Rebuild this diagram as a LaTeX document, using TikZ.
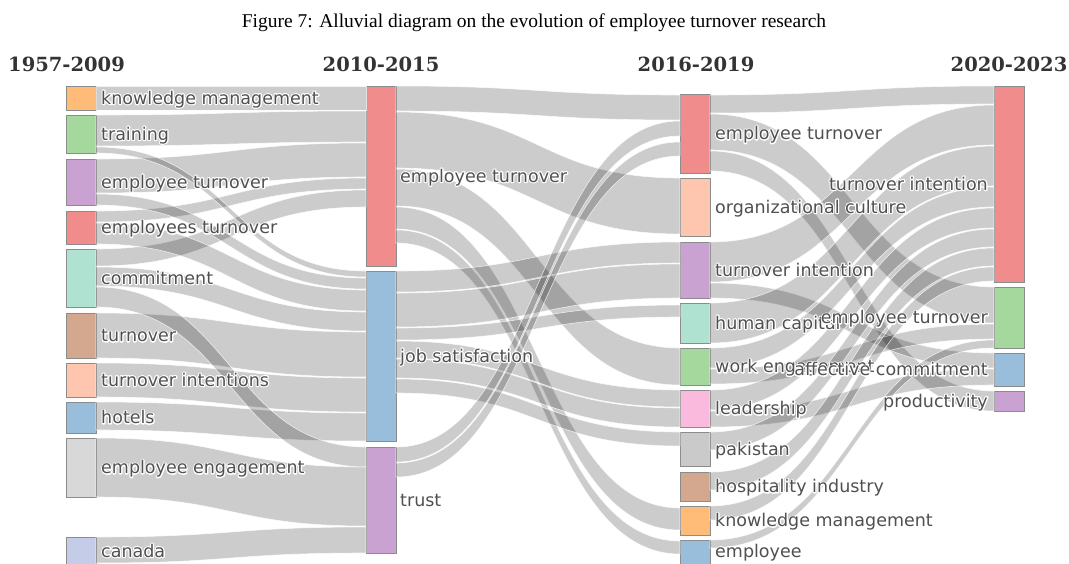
\documentclass[tikz,border=0pt]{standalone}
\usepackage{fontspec}
\setmainfont{Liberation Serif}
\newfontfamily\labfont{DejaVu Sans}
\newfontfamily\headfont{DejaVu Serif}
\usetikzlibrary{calc}
\definecolor{labc}{RGB}{80,80,80}
\definecolor{headc}{RGB}{51,51,51}
\definecolor{cOrange}{HTML}{FFBB78}
\definecolor{cGreen}{HTML}{A4D89C}
\definecolor{cPurple}{HTML}{C9A2D2}
\definecolor{cRed}{HTML}{F08C8C}
\definecolor{cMint}{HTML}{B0E2D2}
\definecolor{cBrown}{HTML}{D4A88E}
\definecolor{cPeach}{HTML}{FEC6AE}
\definecolor{cBlue}{HTML}{99BEDC}
\definecolor{cGray}{HTML}{D8D8D8}
\definecolor{cGrayB}{HTML}{CACACA}
\definecolor{cLav}{HTML}{C4CCE8}
\definecolor{cPink}{HTML}{F9BADD}
\newcommand\hl[1]{\rlap{\color{white}\special{pdf:literal direct 1 Tr 2.4 w 1 j}#1\special{pdf:literal direct 0 Tr}}#1}
\newcommand\bx[5]{%
  \pgfmathsetmacro\bxc{(#3+#4)/2}\pgfmathsetmacro\bxh{#4-#3}%
  \node[boxst, fill=#5, minimum height=\bxh pt] (#1) at (#2+15,\bxc) {};}
\newcommand\flowband[6]{%
  \coordinate (fA) at ([yshift=-#2pt]#1.north east);
  \coordinate (fB) at ([yshift=-#3pt]#1.north east);
  \coordinate (fC) at ([yshift=-#5pt]#4.north west);
  \coordinate (fD) at ([yshift=-#6pt]#4.north west);
  \coordinate (fM) at ($(fA)!0.5!(fC)$);
  \path[flowst] (fA) .. controls (fM |- fA) and (fM |- fC) .. (fC) -- (fD)
     .. controls (fM |- fD) and (fM |- fB) .. (fB) -- cycle;}
\begin{document}
\begin{tikzpicture}[x=1pt,y=-1pt,
  boxst/.style={rectangle, draw=black!45, line width=1pt, minimum width=30pt, inner sep=0pt, outer sep=0pt},
  flowst/.style={fill=black, fill opacity=0.2, draw=white, draw opacity=0.75, line width=0.6pt},
  lab/.style={anchor=base west, inner sep=0pt, text=labc, font=\labfont\fontsize{17.5}{20}\selectfont},
  labr/.style={lab, anchor=base east},
  headst/.style={anchor=base, inner sep=0pt, text=headc, font=\headfont\bfseries\fontsize{19.5}{22}\selectfont}]
\useasboundingbox (0,0) rectangle (1069,563);
\fill[white] (0,0) rectangle (1069,563);
% title and headers
\node[anchor=base, inner sep=0pt, font=\fontsize{19.5}{22}\selectfont] (title) at (534,27) {Figure 7: Alluvial diagram on the evolution of employee turnover research};
\node[headst] (h1) at (66.5,71) {1957-2009};
\node[headst] (h2) at (381,71) {2010-2015};
\node[headst] (h3) at (696,71) {2016-2019};
\node[headst] (h4) at (1009,71) {2020-2023};
% nodes column 1
\bx{km1}{66}{86}{110}{cOrange}
\bx{trn1}{66}{115}{153}{cGreen}
\bx{et1}{66}{159}{205}{cPurple}
\bx{est1}{66}{211}{244}{cRed}
\bx{com1}{66}{249}{307}{cMint}
\bx{to1}{66}{313}{358}{cBrown}
\bx{toi1}{66}{363}{397}{cPeach}
\bx{hot1}{66}{402}{433}{cBlue}
\bx{ee1}{66}{438}{497}{cGray}
\bx{can1}{66}{537}{568}{cLav}
% column 2
\bx{et2}{366}{86}{266}{cRed}
\bx{js2}{366}{271}{441}{cBlue}
\bx{tr2}{366}{447}{553}{cPurple}
% column 3
\bx{et3}{680}{94}{173}{cRed}
\bx{oc3}{680}{178}{236}{cPeach}
\bx{ti3}{680}{242}{298}{cPurple}
\bx{hc3}{680}{303}{343}{cMint}
\bx{we3}{680}{348}{385}{cGreen}
\bx{ld3}{680}{390}{427}{cPink}
\bx{pk3}{680}{432}{466}{cGrayB}
\bx{hi3}{680}{472}{501}{cBrown}
\bx{km3}{680}{506}{535}{cOrange}
\bx{emp3}{680}{540}{568}{cBlue}
% column 4
\bx{ti4}{994}{86}{282}{cRed}
\bx{eto4}{994}{287}{348}{cGreen}
\bx{ac4}{994}{353}{386}{cBlue}
\bx{pr4}{994}{391}{411}{cPurple}
% flows 1 -> 2
\flowband{km1}{0}{24}{et2}{0}{24}
\flowband{trn1}{0}{31}{et2}{25}{56}
\flowband{et1}{0}{34}{et2}{57}{91}
\flowband{est1}{0}{11}{et2}{92}{103}
\flowband{com1}{0}{17}{et2}{104}{121}
\flowband{trn1}{32}{38}{js2}{0}{6}
\flowband{et1}{35}{46}{js2}{7}{18}
\flowband{est1}{12}{33}{js2}{19}{40}
\flowband{com1}{18}{37}{js2}{41}{60}
\flowband{to1}{0}{45}{js2}{61}{106}
\flowband{toi1}{0}{34}{js2}{107}{141}
\flowband{hot1}{0}{28}{js2}{142}{170}
\flowband{com1}{38}{58}{tr2}{0}{20}
\flowband{ee1}{0}{59}{tr2}{20}{79}
\flowband{can1}{0}{26}{tr2}{80}{106}
% flows 2 -> 3
\flowband{et2}{0}{25}{et3}{1}{26}
\flowband{et2}{26}{82}{oc3}{0}{56}
\flowband{et2}{83}{120}{we3}{0}{37}
\flowband{et2}{121}{143}{km3}{2}{24}
\flowband{et2}{144}{157}{emp3}{1}{14}
\flowband{js2}{0}{21}{ti3}{0}{21}
\flowband{js2}{22}{56}{ti3}{22}{56}
\flowband{js2}{57}{69}{hc3}{2}{14}
\flowband{js2}{70}{87}{ld3}{0}{17}
\flowband{js2}{88}{107}{ld3}{18}{37}
\flowband{js2}{108}{122}{pk3}{0}{14}
\flowband{tr2}{0}{15}{et3}{27}{42}
\flowband{tr2}{16}{30}{et3}{48}{62}
% flows 3 -> 4
\flowband{et3}{1}{19}{ti4}{0}{18}
\flowband{et3}{20}{56}{eto4}{0}{36}
\flowband{et3}{57}{77}{pr4}{0}{20}
\flowband{ti3}{0}{40}{ti4}{19}{59}
\flowband{ti3}{41}{56}{ac4}{0}{15}
\flowband{hc3}{0}{40}{ti4}{60}{100}
\flowband{we3}{0}{20}{ti4}{101}{121}
\flowband{we3}{21}{36}{eto4}{37}{52}
\flowband{ld3}{0}{20}{ti4}{122}{142}
\flowband{ld3}{21}{37}{ac4}{16}{32}
\flowband{pk3}{0}{18}{ti4}{143}{161}
\flowband{hi3}{0}{18}{ti4}{162}{180}
\flowband{km3}{0}{14}{ti4}{181}{195}
\flowband{emp3}{0}{8}{eto4}{53}{61}
% labels column 1
\node[lab] (lkm1) at (101,104) {\hl{knowledge management}};
\node[lab] (ltrn1) at (101,140) {\hl{training}};
\node[lab] (let1) at (101,188) {\hl{employee turnover}};
\node[lab] (lest1) at (101,233.5) {\hl{employees turnover}};
\node[lab] (lcom1) at (101,284) {\hl{commitment}};
\node[lab] (lto1) at (101,341.5) {\hl{turnover}};
\node[lab] (ltoi1) at (101,386) {\hl{turnover intentions}};
\node[lab] (lhot1) at (101,423.5) {\hl{hotels}};
\node[lab] (lee1) at (101,473.5) {\hl{employee engagement}};
\node[lab] (lcan1) at (101,557) {\hl{canada}};
% labels column 2
\node[lab] (let2) at (400,182) {\hl{employee turnover}};
\node[lab] (ljs2) at (400,362) {\hl{job satisfaction}};
\node[lab] (ltr2) at (400,506) {\hl{trust}};
% labels column 3
\node[lab] (let3) at (715,139.5) {\hl{employee turnover}};
\node[lab] (loc3) at (715,213) {\hl{organizational culture}};
\node[lab] (lti3) at (715,276) {\hl{turnover intention}};
\node[lab] (lhc3) at (715,329) {\hl{human capital}};
\node[lab] (lwe3) at (715,372.5) {\hl{work engagement}};
\node[lab] (lld3) at (715,414.5) {\hl{leadership}};
\node[lab] (lpk3) at (715,455) {\hl{pakistan}};
\node[lab] (lhi3) at (715,492.5) {\hl{hospitality industry}};
\node[lab] (lkm3) at (715,526.5) {\hl{knowledge management}};
\node[lab] (lemp3) at (715,557) {\hl{employee}};
% labels column 4
\node[labr] (lti4) at (988,190) {\hl{turnover intention}};
\node[labr] (leto4) at (988,323.5) {\hl{employee turnover}};
\node[labr] (lac4) at (988,375.5) {\hl{affective commitment}};
\node[labr] (lpr4) at (988,407) {\hl{productivity}};
\end{tikzpicture}
\end{document}
